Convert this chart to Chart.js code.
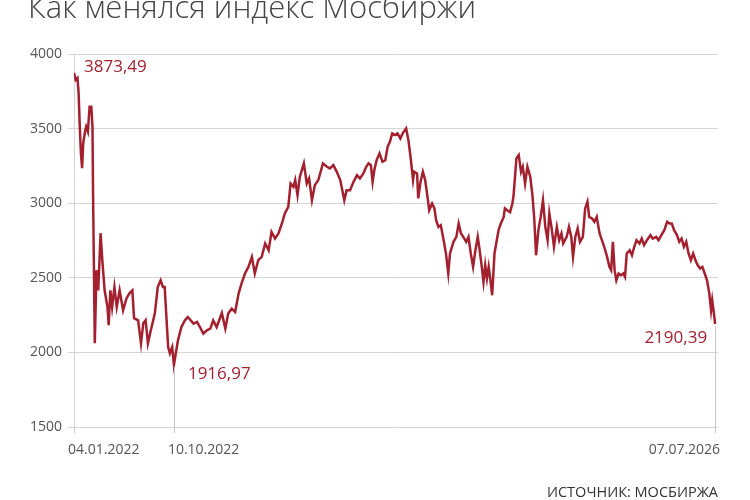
<!DOCTYPE html>
<html>
<head>
<meta charset="utf-8">
<script src="https://cdn.jsdelivr.net/npm/chart.js@4"></script>
<style>
  html, body { margin: 0; background: #fff; }
</style>
</head>
<body>
<canvas id="moexChart" width="750" height="500"></canvas>
<script>
// trading-day index since 04.01.2022 and index value
var days = [0, 3, 6, 8, 10, 12, 14, 16, 19, 21, 24, 27, 30, 32, 33, 36, 39, 42, 46, 49,
  53, 58, 60, 63, 66, 70, 74, 79, 85, 91, 96, 101, 104, 111, 116, 120, 124, 128, 133, 140,
  145, 150, 154, 157, 160, 163, 166, 170, 173, 180, 186, 192, 197, 207, 213, 218, 224, 230, 236, 241,
  247, 256, 262, 267, 273, 279, 285, 290, 296, 302, 308, 313, 319, 325, 331, 337, 342, 348, 354, 360,
  365, 371, 375, 380, 383, 387, 391, 398, 403, 407, 412, 417, 423, 431, 438, 443, 449, 455, 461, 468,
  472, 478, 484, 490, 495, 501, 506, 510, 514, 517, 520, 524, 529, 534, 539, 543, 547, 551, 556, 560,
  565, 569, 575, 579, 583, 587, 589, 594, 596, 600, 604, 608, 612, 615, 620, 624, 627, 631, 635, 640,
  644, 648, 651, 657, 662, 666, 670, 674, 679, 683, 687, 691, 695, 699, 702, 706, 709, 712, 715, 718,
  721, 724, 728, 732, 735, 739, 744, 746, 750, 755, 759, 761, 766, 770, 774, 777, 781, 785, 790, 794,
  797, 800, 804, 808, 812, 816, 820, 823, 827, 831, 836, 840, 844, 847, 853, 857, 861, 864, 868, 872,
  876, 881, 885, 889, 892, 897, 901, 905, 910, 914, 918, 923, 927, 930, 933, 936, 939, 943, 947, 951,
  954, 957, 962, 966, 970, 974, 979, 983, 987, 992, 998, 1002, 1008, 1012, 1017, 1022, 1027, 1031, 1035, 1039,
  1044, 1048, 1052, 1056, 1060, 1064, 1068, 1072, 1076, 1080, 1084, 1088, 1092, 1096, 1100, 1103, 1105, 1108, 1110];
var values = [3873.49, 3826, 3839, 3738, 3512, 3335, 3235, 3403, 3479, 3512, 3479, 3646, 3646, 3512, 3067, 2061, 2551, 2416, 2799, 2618,
  2416, 2304, 2182, 2416, 2304, 2438, 2304, 2416, 2282, 2363, 2396, 2416, 2229, 2215, 2061, 2195, 2215, 2061, 2148, 2262,
  2438, 2483, 2438, 2438, 2237, 2036, 1993, 2036, 1916.97, 2081, 2170, 2215, 2237, 2193, 2204, 2170, 2126, 2148, 2159, 2215,
  2170, 2264, 2159, 2260, 2293, 2271, 2394, 2461, 2529, 2573, 2640, 2529, 2618, 2640, 2730, 2685, 2808, 2763, 2797, 2864,
  2931, 2975, 3132, 3110, 3155, 3054, 3177, 3267, 3132, 3166, 3020, 3121, 3155, 3267, 3244, 3233, 3255, 3210, 3155, 3020,
  3087, 3087, 3143, 3188, 3166, 3199, 3244, 3267, 3255, 3143, 3222, 3289, 3334, 3278, 3289, 3378, 3412, 3468, 3457, 3468,
  3434, 3468, 3501, 3423, 3300, 3155, 3210, 3199, 3032, 3143, 3210, 3155, 3043, 2953, 2998, 2965, 2886, 2841, 2853, 2752,
  2663, 2529, 2663, 2741, 2774, 2864, 2797, 2774, 2741, 2774, 2663, 2573, 2685, 2774, 2696, 2573, 2472, 2584, 2495, 2573,
  2484, 2383, 2663, 2752, 2819, 2864, 2908, 2965, 2953, 2940, 2998, 3050, 3300, 3322, 3210, 3244, 3132, 3244, 3177, 3043,
  2886, 2651, 2819, 2908, 3020, 2841, 2752, 2931, 2831, 2708, 2841, 2752, 2797, 2730, 2774, 2841, 2774, 2640, 2774, 2831,
  2741, 2774, 2965, 3010, 2908, 2897, 2875, 2908, 2797, 2752, 2708, 2640, 2573, 2551, 2741, 2551, 2484, 2529, 2517, 2529,
  2506, 2663, 2685, 2651, 2708, 2752, 2730, 2763, 2719, 2752, 2786, 2763, 2774, 2752, 2786, 2819, 2875, 2864, 2864, 2819,
  2786, 2741, 2763, 2708, 2741, 2663, 2618, 2663, 2618, 2584, 2562, 2573, 2529, 2484, 2394, 2282, 2349, 2260, 2190.39];

var tickDays = [0, 173, 1110];
var tickLabels = ['04.01.2022', '10.10.2022', '07.07.2026'];
var yTicks = [1500, 2000, 2500, 3000, 3500, 4000];

var noteIdx = [0, 48, values.length - 1];
var noteText = ['3873,49', '1916,97', '2190,39'];

var lineColor = '#a3202f';
var fontName = '"Open Sans", "Noto Sans", sans-serif';

var points = days.map(function (d, i) { return { x: d, y: values[i] }; });

var extras = {
  id: 'extras',
  afterDraw: function (chart) {
    var c = chart.ctx, area = chart.chartArea;
    var xs = chart.scales.x, ys = chart.scales.y;
    c.save();

    // drop lines from the low and the last value down past the axis
    c.strokeStyle = '#c8c8c8';
    c.lineWidth = 1;
    [noteIdx[1], noteIdx[2]].forEach(function (i) {
      var px = Math.round(xs.getPixelForValue(days[i])) + 0.5;
      c.beginPath();
      c.moveTo(px, ys.getPixelForValue(values[i]) + 2);
      c.lineTo(px, area.bottom + 6);
      c.stroke();
    });
    var x0 = Math.round(xs.getPixelForValue(tickDays[0])) + 0.5;
    c.beginPath();
    c.moveTo(x0, area.bottom);
    c.lineTo(x0, area.bottom + 6);
    c.stroke();

    // x tick labels
    c.fillStyle = '#555';
    c.font = '14px ' + fontName;
    c.textBaseline = 'middle';
    xs.ticks.forEach(function (t, k) {
      var px = xs.getPixelForValue(t.value);
      if (k === xs.ticks.length - 1) {
        c.textAlign = 'right';
        c.fillText(tickLabels[k], px + 5, area.bottom + 23);
      } else {
        c.textAlign = 'left';
        c.fillText(tickLabels[k], px - 6, area.bottom + 23);
      }
    });

    // value notes
    c.fillStyle = lineColor;
    c.font = '17px ' + fontName;
    c.textAlign = 'left';
    c.fillText(noteText[0], xs.getPixelForValue(days[noteIdx[0]]) + 10, ys.getPixelForValue(4000) + 13);
    c.fillText(noteText[1], xs.getPixelForValue(days[noteIdx[1]]) + 14, ys.getPixelForValue(values[noteIdx[1]]) + 9);
    c.textAlign = 'right';
    c.fillText(noteText[2], xs.getPixelForValue(days[noteIdx[2]]) - 8, ys.getPixelForValue(values[noteIdx[2]]) + 14);

    // title (cut at the top, as in the source) and source line
    c.fillStyle = '#444';
    c.font = '300 31px ' + fontName;
    c.textAlign = 'left';
    c.textBaseline = 'alphabetic';
    c.fillText('Как менялся индекс Мосбиржи', 28, 18);

    c.fillStyle = '#333';
    c.font = '14.5px ' + fontName;
    c.textAlign = 'right';
    c.fillText('ИСТОЧНИК: МОСБИРЖА', 718, 497);
    c.restore();
  }
};

var ctx = document.getElementById('moexChart').getContext('2d');
var moexChart = new Chart(ctx, {
  type: 'line',
  data: {
    datasets: [{
      data: points,
      borderColor: lineColor,
      borderWidth: 2.5,
      pointRadius: 0,
      tension: 0,
      fill: false
    }]
  },
  options: {
    responsive: false,
    animation: false,
    devicePixelRatio: 1,
    layout: { padding: { top: 54, right: 32, left: 0, bottom: 0 } },
    plugins: { legend: { display: false }, tooltip: { enabled: false } },
    scales: {
      x: {
        type: 'linear',
        min: 0,
        max: 1115,
        afterBuildTicks: function (s) { s.ticks = tickDays.map(function (v) { return { value: v }; }); },
        afterFit: function (s) { s.height = 73; },
        grid: { display: false },
        border: { display: false },
        ticks: { display: false }
      },
      y: {
        min: 1500,
        max: 4000,
        afterBuildTicks: function (s) { s.ticks = yTicks.map(function (v) { return { value: v }; }); },
        afterFit: function (s) { s.width = 74; },
        grid: { color: '#d4d4d4', tickLength: 6 },
        border: { display: true, color: '#d4d4d4' },
        ticks: {
          padding: 6,
          color: '#555',
          font: { family: fontName, size: 14 },
          callback: function (v) { return String(v); }
        }
      }
    }
  },
  plugins: [extras]
});
</script>
</body>
</html>
